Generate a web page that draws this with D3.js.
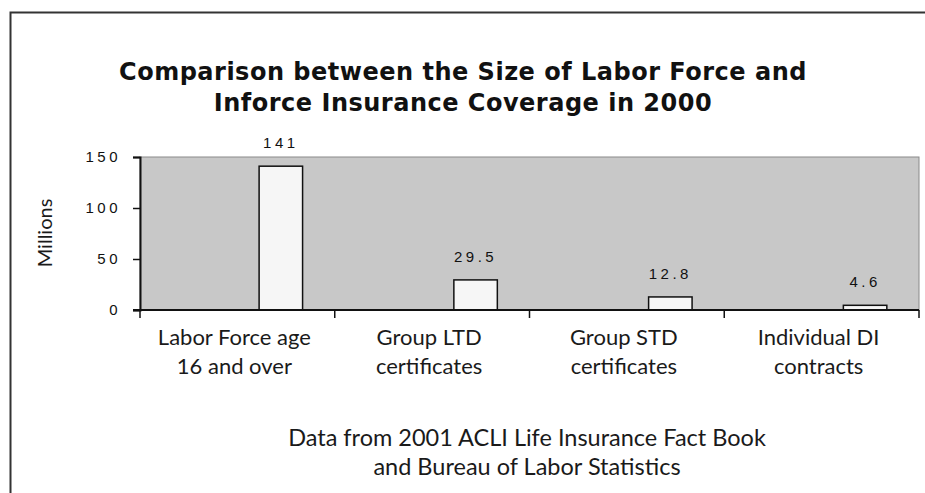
<!DOCTYPE html>
<html>
<head>
<meta charset="utf-8">
<script src="https://cdn.jsdelivr.net/npm/d3@7"></script>
<style>
  body { margin: 0; background: #fff; }
  svg { display: block; }
</style>
</head>
<body>
<svg id="chart" width="925" height="493"></svg>
<script>
// chart data
const categories = [
  ['Labor Force age', '16 and over'],
  ['Group LTD', 'certificates'],
  ['Group STD', 'certificates'],
  ['Individual DI', 'contracts']
];
const values = [141, 29.5, 12.8, 4.6];
const valueLabels = ['141', '29.5', '12.8', '4.6'];
const yTicks = [0, 50, 100, 150];
const titleLines = ['Comparison between the Size of Labor Force and', 'Inforce Insurance Coverage in 2000'];
const noteLines = ['Data from 2001 ACLI Life Insurance Fact Book', 'and Bureau of Labor Statistics'];

const svg = d3.select('#chart');
const font = 'Lato, "Open Sans", sans-serif';
const numFont = 'Arial, "Liberation Sans", sans-serif';
const plot = {left: 140, right: 919, top: 157, bottom: 310};

// outer frame (top and left edges only, like the cropped original)
svg.append('path')
  .attr('d', 'M10.5,493 V12.5 H925')
  .attr('fill', 'none')
  .attr('stroke', '#333')
  .attr('stroke-width', 2);

// scales
const x = d3.scaleBand()
  .domain(d3.range(categories.length))
  .range([plot.left, plot.right]);
// excel style cluster with three slots; our bar sits in the last one
const xSlot = d3.scaleBand()
  .domain([0, 1, 2])
  .range([0, x.bandwidth()])
  .paddingOuter(0.74);
const y = d3.scaleLinear()
  .domain([0, 150])
  .range([plot.bottom, plot.top]);

// plot background
svg.append('rect')
  .attr('x', plot.left)
  .attr('y', plot.top)
  .attr('width', plot.right - plot.left)
  .attr('height', plot.bottom - plot.top)
  .attr('fill', '#c8c8c8')
  .attr('stroke', '#8a8a8a')
  .attr('stroke-width', 1);

// bars
svg.selectAll('.bar')
  .data(values)
  .enter().append('rect')
  .attr('class', 'bar')
  .attr('x', (d, i) => x(i) + xSlot(2))
  .attr('y', d => y(d))
  .attr('width', xSlot.bandwidth())
  .attr('height', d => y(0) - y(d))
  .attr('fill', '#f6f6f6')
  .attr('stroke', '#111')
  .attr('stroke-width', 1.5);

// value labels
svg.selectAll('.vlabel')
  .data(values)
  .enter().append('text')
  .attr('class', 'vlabel')
  .attr('x', (d, i) => x(i) + xSlot(2) + xSlot.bandwidth() / 2)
  .attr('y', d => y(d) - 18)
  .attr('text-anchor', 'middle')
  .attr('font-family', numFont)
  .attr('font-size', 15)
  .attr('letter-spacing', 3.5)
  .attr('fill', '#111')
  .text((d, i) => valueLabels[i]);

// y axis
const yAxis = d3.axisLeft(y)
  .tickValues(yTicks)
  .tickSize(7)
  .tickPadding(12)
  .tickFormat(d3.format('d'));
const gy = svg.append('g')
  .attr('transform', `translate(${plot.left},0)`)
  .call(yAxis);
gy.select('.domain').attr('stroke', '#111').attr('stroke-width', 2);
gy.selectAll('.tick line').attr('stroke', '#111').attr('stroke-width', 1.5);
gy.selectAll('.tick text')
  .attr('font-family', numFont)
  .attr('font-size', 15)
  .attr('letter-spacing', 3.5)
  .attr('fill', '#111');

// x axis: ticks at band boundaries
const xEdges = d3.range(categories.length + 1).map(i => i === categories.length ? plot.right : x(i));
const gx = svg.append('g');
gx.append('line')
  .attr('x1', plot.left - 7).attr('x2', plot.right)
  .attr('y1', plot.bottom).attr('y2', plot.bottom)
  .attr('stroke', '#111').attr('stroke-width', 2);
gx.selectAll('.xtick')
  .data(xEdges)
  .enter().append('line')
  .attr('x1', d => d).attr('x2', d => d)
  .attr('y1', plot.bottom).attr('y2', plot.bottom + 8)
  .attr('stroke', '#111').attr('stroke-width', 1.5);

// category labels
const catText = svg.selectAll('.cat')
  .data(categories)
  .enter().append('text')
  .attr('class', 'cat')
  .attr('text-anchor', 'middle')
  .attr('font-family', font)
  .attr('font-size', 22)
  .attr('fill', '#1a1a1a');
catText.selectAll('tspan')
  .data((d, i) => d.map(t => ({t, i})))
  .enter().append('tspan')
  .attr('x', d => x(d.i) + x.bandwidth() / 2 - 3)
  .attr('y', (d, j) => 345 + j * 29)
  .text(d => d.t);

// axis title
svg.append('text')
  .attr('transform', 'translate(52,233) rotate(-90)')
  .attr('text-anchor', 'middle')
  .attr('font-family', font)
  .attr('font-size', 20)
  .attr('fill', '#1a1a1a')
  .text('Millions');

// chart title
svg.append('g').selectAll('text')
  .data(titleLines)
  .enter().append('text')
  .attr('x', 463)
  .attr('y', (d, i) => 80 + i * 31)
  .attr('text-anchor', 'middle')
  .attr('font-family', '"DejaVu Sans", sans-serif')
  .attr('font-weight', 'bold')
  .attr('font-size', 24)
  .attr('letter-spacing', 0.5)
  .attr('fill', '#111')
  .text(d => d);

// footnote
svg.append('g').selectAll('text')
  .data(noteLines)
  .enter().append('text')
  .attr('x', 527)
  .attr('y', (d, i) => 446 + i * 29)
  .attr('text-anchor', 'middle')
  .attr('font-family', font)
  .attr('font-size', 23.5)
  .attr('fill', '#1a1a1a')
  .text(d => d);
</script>
</body>
</html>
